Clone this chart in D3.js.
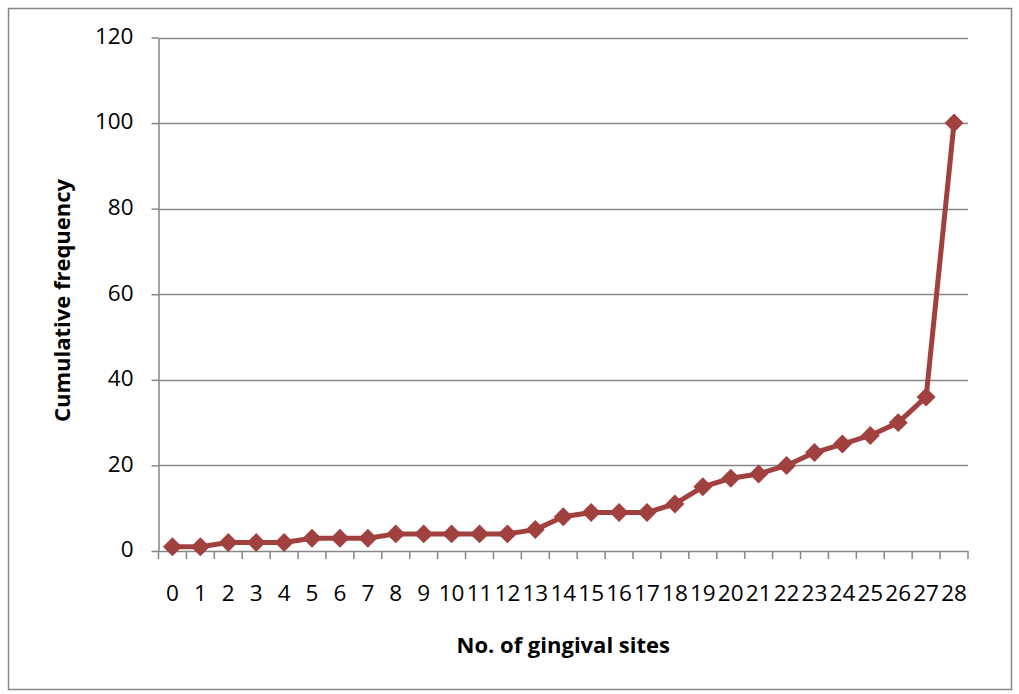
<!DOCTYPE html>
<html>
<head>
<meta charset="utf-8">
<script src="https://cdn.jsdelivr.net/npm/d3@7"></script>
<style>
  html, body { margin: 0; padding: 0; background: #fff; }
  svg { display: block; font-family: "Open Sans", Lato, sans-serif; }
</style>
</head>
<body>
<svg id="chart" width="1019" height="694"></svg>
<script>
// Number of gingival sites (category axis)
const sites = ["0","1","2","3","4","5","6","7","8","9","10","11","12","13","14","15","16","17","18","19","20","21","22","23","24","25","26","27","28"];
// Cumulative frequency at each site count
const cumulative = [1,1,2,2,2,3,3,3,4,4,4,4,4,5,8,9,9,9,11,15,17,18,20,23,25,27,30,36,100];
// Value axis ticks
const yTicks = [0,20,40,60,80,100,120];

const svg = d3.select("#chart");
const lineColor = "#A0413F";
const axisColor = "#868686";

// Chart frame
svg.append("rect")
  .attr("x", 8.5).attr("y", 8.5)
  .attr("width", 1003).attr("height", 681)
  .attr("fill", "none").attr("stroke", axisColor).attr("stroke-width", 1.5);

const plot = { left: 158.5, right: 968, top: 37.5, bottom: 551 };

const x = d3.scaleBand().domain(sites).range([plot.left, plot.right]).padding(0);
const y = d3.scaleLinear().domain([0, 120]).range([plot.bottom, plot.top]);

// Horizontal gridlines
svg.append("g")
  .selectAll("line")
  .data(yTicks.filter(d => d > 0))
  .join("line")
  .attr("x1", plot.left).attr("x2", plot.right)
  .attr("y1", d => Math.round(y(d)) + 0.5).attr("y2", d => Math.round(y(d)) + 0.5)
  .attr("stroke", axisColor).attr("stroke-width", 1.5);

// Y axis
const yAxis = svg.append("g")
  .attr("transform", `translate(${plot.left},0)`)
  .call(d3.axisLeft(y).tickValues(yTicks).tickSize(7).tickPadding(18).tickSizeOuter(0));
yAxis.select(".domain").attr("stroke", axisColor).attr("stroke-width", 1.5);
yAxis.selectAll(".tick line").attr("stroke", axisColor).attr("stroke-width", 1.5);
yAxis.selectAll(".tick text")
  .attr("font-size", 22.5).attr("fill", "#000")
  .attr("font-family", "\"Open Sans\", sans-serif")
  .attr("dy", "0.26em");

// X axis with ticks between categories
const xAxisG = svg.append("g").attr("transform", `translate(0,${plot.bottom})`);
xAxisG.append("line")
  .attr("x1", plot.left).attr("x2", plot.right)
  .attr("y1", 0.5).attr("y2", 0.5)
  .attr("stroke", axisColor).attr("stroke-width", 1.5);
const boundaries = sites.map(s => x(s)).concat([plot.right]);
xAxisG.selectAll("line.tick")
  .data(boundaries)
  .join("line")
  .attr("class", "tick")
  .attr("x1", d => d).attr("x2", d => d)
  .attr("y1", 0).attr("y2", 8)
  .attr("stroke", axisColor).attr("stroke-width", 1.5);
xAxisG.selectAll("text")
  .data(sites)
  .join("text")
  .attr("x", d => x(d) + x.bandwidth() / 2)
  .attr("y", 50)
  .attr("text-anchor", "middle")
  .attr("font-size", 22.5)
  .attr("fill", "#000")
  .text(d => d);

// Axis titles
svg.append("text")
  .attr("x", (plot.left + plot.right) / 2 + 0)
  .attr("y", 653)
  .attr("text-anchor", "middle")
  .attr("font-size", 22).attr("font-weight", "bold")
  .text("No. of gingival sites");

svg.append("text")
  .attr("transform", `translate(70,${(173 + 428) / 2}) rotate(-90)`)
  .attr("text-anchor", "middle")
  .attr("font-size", 22).attr("font-weight", "bold")
  .text("Cumulative frequency");

// Series line
const cx = i => x(sites[i]) + x.bandwidth() / 2;
const line = d3.line().x((d, i) => cx(i)).y(d => y(d));
svg.append("path")
  .datum(cumulative)
  .attr("d", line)
  .attr("fill", "none")
  .attr("stroke", lineColor)
  .attr("stroke-width", 5)
  .attr("stroke-linejoin", "round");

// Diamond markers (rotated squares)
svg.append("g")
  .selectAll("path")
  .data(cumulative)
  .join("path")
  .attr("d", d3.symbol().type(d3.symbolSquare).size(180))
  .attr("transform", (d, i) => `translate(${cx(i)},${y(d)}) rotate(45)`)
  .attr("fill", lineColor);
</script>
</body>
</html>
